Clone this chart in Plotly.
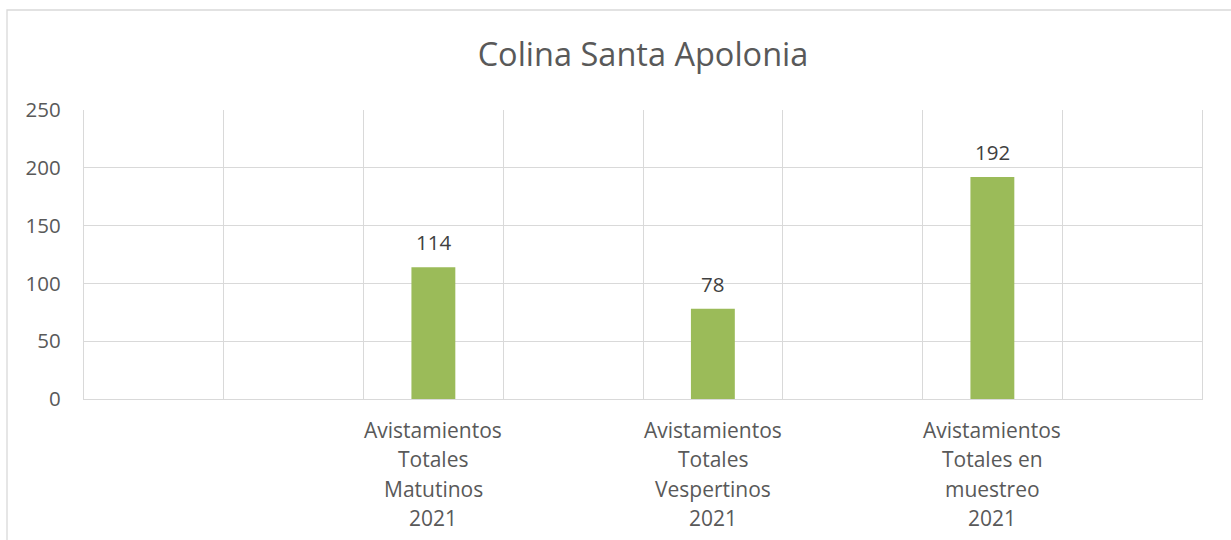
import plotly.graph_objects as go

title = "Colina Santa Apolonia"
categories = [
    "",
    "",
    "Avistamientos\nTotales\nMatutinos\n2021",
    "",
    "Avistamientos\nTotales\nVespertinos\n2021",
    "",
    "Avistamientos\nTotales en\nmuestreo\n2021",
    "",
]
values = [None, None, 114, None, 78, None, 192, None]
y_ticks = [0, 50, 100, 150, 200, 250]

BAR = "#9BBB59"
GRID = "#D9D9D9"
TXT = "#595959"
FONT = "Open Sans"

xs = list(range(len(categories)))

fig = go.Figure()
fig.add_trace(go.Bar(x=xs, y=values, marker=dict(color=BAR, line=dict(width=0)),
                     width=0.314, hoverinfo="skip"))

annotations = []
for x, v in zip(xs, values):
    if v is not None:
        annotations.append(dict(x=x, y=v, xref="x", yref="y", text=str(v),
                                showarrow=False, yanchor="middle", yshift=25,
                                font=dict(family=FONT, size=20.5, color="#404040")))
for x, lab in zip(xs, categories):
    if lab:
        for i, line in enumerate(lab.split("\n")):
            annotations.append(dict(x=x, y=0, xref="x", yref="paper", text=line,
                                    showarrow=False, yanchor="middle",
                                    yshift=-31 - 29.3 * i,
                                    font=dict(family=FONT, size=21, color=TXT)))

fig.update_layout(
    width=1231, height=540,
    margin=dict(l=84, r=29, t=110, b=141),
    paper_bgcolor="white", plot_bgcolor="white",
    showlegend=False,
    title=dict(text=title, x=0.5, xanchor="center", y=1 - 55 / 540, yanchor="middle",
               xref="paper", font=dict(family=FONT, size=32.5, color=TXT)),
    xaxis=dict(range=[-0.5, len(categories) - 0.5], tickmode="linear", tick0=-0.5, dtick=1,
               showticklabels=False, showgrid=True, gridcolor=GRID, gridwidth=1.3,
               zeroline=False, showline=True, linecolor=GRID, linewidth=1.3, ticks=""),
    yaxis=dict(range=[0, 250], tickvals=y_ticks, showgrid=True, gridcolor=GRID, gridwidth=1.3,
               zeroline=False, showline=True, mirror=True, linecolor=GRID, linewidth=1.3,
               ticks="", ticklabelstandoff=18,
               tickfont=dict(family=FONT, size=20.5, color=TXT)),
    annotations=annotations,
    shapes=[dict(type="rect", xref="paper", yref="paper",
                 x0=(7 - 84) / 1118, x1=(1240 - 84) / 1118,
                 y0=-(560 - 399) / 289, y1=1 + (110 - 10) / 289,
                 line=dict(color=GRID, width=1.3), fillcolor="rgba(0,0,0,0)", layer="below")],
)

fig.write_html("out.html", config={"displayModeBar": False},
               post_script="document.body.style.margin='0';document.body.style.overflow='hidden';")
